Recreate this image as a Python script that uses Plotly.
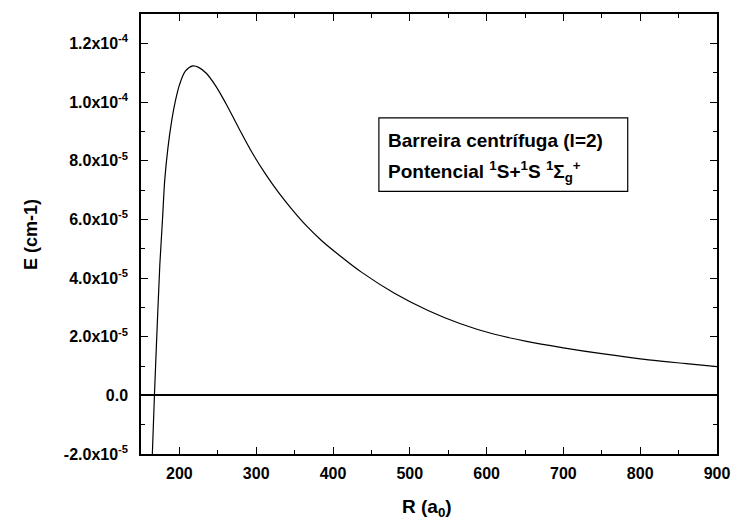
import plotly.graph_objects as go

# Data
R_vals = [164.5, 167.5, 171.0, 174.5, 178.0, 181.0, 185.0, 189.6, 195.0, 200.3, 208.0,
          217.5, 225.0, 235.0, 247.0, 260.0, 277.0, 295.0, 312.0, 329.0, 346.0, 364.0,
          385.0, 407.0, 437.0, 480.0, 523.0, 566.0, 609.0, 652.0, 700.0, 750.0, 811.0,
          860.0, 900.0]
E_vals = [-2.2e-5, 0.0, 2.3e-5, 4.45e-5, 6.0e-5, 7.37e-5, 8.42e-5, 9.3e-5, 1.006e-4, 1.06e-4, 1.106e-4,
          1.123e-4, 1.118e-4, 1.098e-4, 1.056e-4, 9.975e-5, 9.125e-5, 8.26e-5, 7.55e-5, 6.92e-5, 6.36e-5, 5.82e-5,
          5.28e-5, 4.80e-5, 4.20e-5, 3.48e-5, 2.90e-5, 2.44e-5, 2.09e-5, 1.84e-5, 1.62e-5, 1.42e-5, 1.21e-5,
          1.08e-5, 0.98e-5]

x_ticks = [200, 300, 400, 500, 600, 700, 800, 900]
y_ticks = [-2e-5, 0, 2e-5, 4e-5, 6e-5, 8e-5, 1.0e-4, 1.2e-4]
y_ticktext = ["-2.0x10<sup>-5</sup>", "0.0", "2.0x10<sup>-5</sup>", "4.0x10<sup>-5</sup>",
              "6.0x10<sup>-5</sup>", "8.0x10<sup>-5</sup>", "1.0x10<sup>-4</sup>", "1.2x10<sup>-4</sup>"]

legend_line1 = "Barreira centrífuga (l=2)"
legend_line2 = "Pontencial <sup>1</sup>S+<sup>1</sup>S <sup>1</sup>Σ<sub>g</sub><sup>+</sup>"

FONT = "Liberation Sans, Arial, sans-serif"

fig = go.Figure()
fig.add_trace(go.Scatter(x=R_vals, y=E_vals, mode="lines",
                         line=dict(color="black", width=1.2, shape="spline", smoothing=1.0),
                         showlegend=False, hoverinfo="skip"))

axis_common = dict(showline=True, linecolor="black", linewidth=1.5, mirror="ticks",
                   ticks="inside", ticklen=7, tickwidth=1.3, tickcolor="black",
                   showgrid=False,
                   tickfont=dict(family=FONT, size=16, color="black", weight="bold"))

fig.update_xaxes(range=[150, 900], tickvals=x_ticks, zeroline=False, ticklabelstandoff=4,
                 minor=dict(dtick=50, tick0=0, ticks="inside", ticklen=4, tickcolor="black", tickwidth=1),
                 **axis_common)
fig.update_yaxes(range=[-2e-5, 1.3e-4], tickvals=y_ticks, ticktext=y_ticktext,
                 zeroline=True, zerolinecolor="black", zerolinewidth=1.6, ticklabelstandoff=8,
                 minor=dict(dtick=1e-5, tick0=0, ticks="inside", ticklen=4, tickcolor="black", tickwidth=1),
                 **axis_common)

fig.add_shape(type="rect", xref="paper", yref="paper", x0=0.413, x1=0.845, y0=0.597, y1=0.764,
              line=dict(color="black", width=1.2), fillcolor="white", layer="above")
fig.add_annotation(text=legend_line1, xref="paper", yref="paper", x=0.426, y=0.712,
                   xanchor="left", yanchor="middle", showarrow=False,
                   font=dict(family=FONT, size=19, color="black", weight="bold"))
fig.add_annotation(text=legend_line2, xref="paper", yref="paper", x=0.426, y=0.642,
                   xanchor="left", yanchor="middle", showarrow=False,
                   font=dict(family=FONT, size=19, color="black", weight="bold"))

fig.add_annotation(text="E (cm-1)", xref="paper", yref="paper", x=-0.191, y=0.50,
                   textangle=-90, showarrow=False, xanchor="center", yanchor="middle",
                   font=dict(family=FONT, size=18, color="black", weight="bold"))
fig.add_annotation(text="R (a<sub>0</sub>)", xref="paper", yref="paper", x=0.497, y=-0.122,
                   showarrow=False, xanchor="center", yanchor="middle",
                   font=dict(family=FONT, size=19, color="black", weight="bold"))

fig.update_layout(width=742, height=529, margin=dict(l=141, r=20, t=12, b=75),
                  plot_bgcolor="white", paper_bgcolor="white",
                  font=dict(family=FONT, color="black"))

fig.write_html("out.html")
